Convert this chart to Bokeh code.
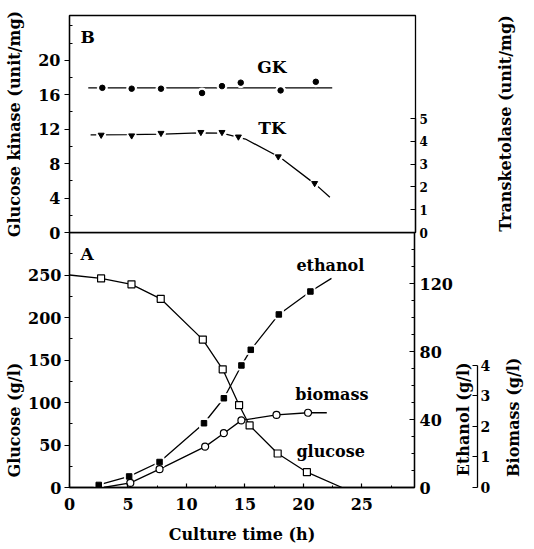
import math
from bokeh.plotting import figure
from bokeh.models import Range1d, LinearAxis, Label, FixedTicker, Title
from bokeh.layouts import column, row
from bokeh.embed import file_html
from bokeh.resources import INLINE

FONT = "DejaVu Serif"

# ---------------- Panel B: enzyme activities ----------------
gk_time = [2.8, 5.3, 7.8, 11.3, 13.0, 14.6, 18.0, 21.0]
gk_activity = [16.8, 16.7, 16.7, 16.2, 17.0, 17.4, 16.5, 17.5]
gk_fit_time = [1.6, 22.4]
gk_fit = [16.8, 16.8]

tk_time = [2.7, 5.3, 7.8, 11.2, 13.0, 14.4, 17.8, 20.9]
tk_activity = [4.28, 4.25, 4.36, 4.40, 4.40, 4.20, 3.33, 2.16]
tk_fit_time = [1.8, 5.0, 8.0, 11.0, 13.0, 15.0, 18.0, 21.0, 22.2]
tk_fit = [4.28, 4.29, 4.32, 4.37, 4.36, 4.10, 3.28, 2.10, 1.55]

gk_ticks = [0, 4, 8, 12, 16, 20]
gk_minor = [2, 6, 10, 14, 18, 22, 24]
tk_ticks = [0, 1, 2, 3, 4, 5]

# ---------------- Panel A: fermentation ----------------
glucose_time = [2.7, 5.3, 7.8, 11.4, 13.1, 14.5, 15.4, 17.8, 20.3]
glucose = [246, 239, 222, 174, 139, 97, 73, 40, 18]
glucose_fit_time = [0.0, 2.7, 5.3, 7.8, 11.4, 13.1, 14.5, 15.4, 17.8, 20.3, 23.3]
glucose_fit = [250, 246, 239, 222, 174, 139, 97, 73, 40, 18, 0]

ethanol_time = [2.5, 5.1, 7.7, 11.5, 13.2, 14.7, 15.5, 17.9, 20.6]
ethanol = [1.5, 6.5, 15.0, 37.8, 52.5, 71.8, 81.0, 101.8, 115.3]
ethanol_fit_time = [2.5, 5.1, 7.7, 11.5, 13.2, 14.7, 15.5, 17.9, 20.6, 22.4]
ethanol_fit = [1.5, 6.5, 15.0, 37.8, 52.5, 71.8, 81.0, 101.8, 115.3, 123.0]

biomass_time = [5.2, 7.7, 11.6, 13.2, 14.7, 17.7, 20.4]
biomass = [0.15, 0.60, 1.34, 1.78, 2.20, 2.38, 2.45]
biomass_fit_time = [2.9, 5.2, 7.7, 11.6, 13.2, 14.7, 17.7, 20.4, 22.0]
biomass_fit = [0.0, 0.15, 0.60, 1.34, 1.78, 2.20, 2.38, 2.45, 2.45]

time_ticks = [0, 5, 10, 15, 20, 25]
time_minor = [2.5, 7.5, 12.5, 17.5, 22.5, 27.5]
glucose_ticks = [0, 50, 100, 150, 200, 250]
glucose_minor = [25, 75, 125, 175, 225, 275]
ethanol_ticks = [0, 40, 80, 120]
ethanol_minor = [10, 20, 30, 50, 60, 70, 90, 100, 110, 130, 140]
biomass_ticks = [0, 1, 2, 3, 4]

TOTAL_W = 530
H_TOP = 242
H_BOT = 315


def style_axis(ax, size="16px"):
    ax.axis_line_color = "black"
    ax.axis_line_width = 1.3
    ax.major_tick_line_color = "black"
    ax.minor_tick_line_color = "black"
    ax.major_tick_line_width = 1.2
    ax.minor_tick_line_width = 1.0
    ax.major_label_text_font = FONT
    ax.major_label_text_font_style = "bold"
    ax.major_label_text_font_size = size
    ax.major_label_text_color = "black"
    ax.axis_label_text_font = FONT
    ax.axis_label_text_font_style = "bold"
    ax.axis_label_text_font_size = "16px"
    ax.axis_label_text_color = "black"


def lbl(p, x, y, text, size="16px", angle=0.0, align="left", baseline="middle"):
    p.add_layout(Label(x=x, y=y, text=text, angle=angle, text_align=align,
                       text_baseline=baseline, text_font=FONT,
                       text_font_style="bold", text_font_size=size,
                       text_color="black"))


def plain(p, transparent=False):
    p.grid.visible = False
    p.outline_line_color = None
    if transparent:
        p.background_fill_alpha = 0.0
        p.border_fill_alpha = 0.0
    else:
        p.background_fill_color = "white"
        p.border_fill_color = "white"


# ======================= top row (B) =======================
p1 = figure(width=435, height=H_TOP, x_range=Range1d(0, 29.5), y_range=Range1d(0, 25.2),
            x_axis_location=None, output_backend="svg", toolbar_location=None,
            min_border_left=69, min_border_right=20, min_border_top=15,
            min_border_bottom=10)
plain(p1)
p1.outline_line_color = "black"
p1.outline_line_width = 1.3

ay = p1.yaxis[0]
ay.ticker = FixedTicker(ticks=gk_ticks, minor_ticks=gk_minor)
style_axis(ay)
ay.major_tick_out = 5
ay.major_tick_in = 0
ay.minor_tick_out = 0
ay.minor_tick_in = 3
ay.major_label_standoff = 4
ay.axis_label = "Glucose kinase (unit/mg)"
ay.axis_label_standoff = 11

p1.extra_y_ranges = {"tk": Range1d(0, 9.52)}
tk_axis = LinearAxis(y_range_name="tk", bounds=(0, 5),
                     ticker=FixedTicker(ticks=tk_ticks, minor_ticks=[]))
style_axis(tk_axis, size="12px")
tk_axis.major_tick_in = 5
tk_axis.major_tick_out = 0
tk_axis.major_label_standoff = 4
p1.add_layout(tk_axis, "right")

p1.line(gk_fit_time, gk_fit, line_color="black", line_width=1.3)
p1.scatter(gk_time, gk_activity, marker="circle", size=10, color="white")
p1.scatter(gk_time, gk_activity, marker="circle", size=5.5, color="black")

p1.line(tk_fit_time, tk_fit, y_range_name="tk", line_color="black", line_width=1.3)
p1.scatter(tk_time, tk_activity, y_range_name="tk", marker="circle", size=9, color="white")
p1.scatter(tk_time, tk_activity, y_range_name="tk", marker="inverted_triangle",
           size=6, color="black")

lbl(p1, 0.94, 22.65, "B", size="17px")
lbl(p1, 16.0, 19.2, "GK", size="17px")
lbl(p1, 16.1, 12.1, "TK", size="17px")

# side strip holding the transketolase title
p1s = figure(width=TOTAL_W - 435, height=H_TOP, x_range=Range1d(0, TOTAL_W - 435),
             y_range=Range1d(0, 217), x_axis_location=None, y_axis_location=None,
             output_backend="svg", toolbar_location=None,
             min_border_left=0, min_border_right=0, min_border_top=15,
             min_border_bottom=10)
plain(p1s)
lbl(p1s, 70, 109, "Transketolase (unit/mg)", angle=math.pi / 2, align="center")

# ======================= bottom row (A) =======================
p2 = figure(width=455, height=H_BOT, x_range=Range1d(0, 29.5), y_range=Range1d(0, 300),
            output_backend="svg", toolbar_location=None,
            min_border_left=69, min_border_right=40, min_border_top=0,
            min_border_bottom=60)
plain(p2, transparent=True)
p2.outline_line_color = "black"
p2.outline_line_width = 1.3
p2.margin = (-10, 0, 0, 0)

ax = p2.xaxis[0]
ax.ticker = FixedTicker(ticks=time_ticks, minor_ticks=time_minor)
style_axis(ax)
ax.major_tick_in = 4
ax.major_tick_out = 0
ax.minor_tick_in = 2
ax.minor_tick_out = 0
ax.major_label_standoff = 10
ax.axis_label = "Culture time (h)"
ax.axis_label_standoff = 12

gy = p2.yaxis[0]
gy.ticker = FixedTicker(ticks=glucose_ticks, minor_ticks=glucose_minor)
style_axis(gy)
gy.major_tick_out = 5
gy.major_tick_in = 0
gy.minor_tick_out = 0
gy.minor_tick_in = 3
gy.major_label_standoff = 3

p2.add_layout(Title(text="Glucose (g/l)", align="left", offset=10, standoff=4,
                    text_font=FONT, text_font_style="bold", text_font_size="16px",
                    text_color="black"), "left")

p2.extra_y_ranges = {"eth": Range1d(0, 150), "bio": Range1d(0, 8.36)}
eth_axis = LinearAxis(y_range_name="eth",
                      ticker=FixedTicker(ticks=ethanol_ticks, minor_ticks=ethanol_minor))
style_axis(eth_axis)
eth_axis.major_tick_in = 5
eth_axis.major_tick_out = 0
eth_axis.minor_tick_in = 3
eth_axis.minor_tick_out = 0
eth_axis.major_label_standoff = 5
p2.add_layout(eth_axis, "right")

p2.line(glucose_fit_time, glucose_fit, line_color="black", line_width=1.3)
p2.line(ethanol_fit_time, ethanol_fit, y_range_name="eth", line_color="black", line_width=1.3)
p2.line(biomass_fit_time, biomass_fit, y_range_name="bio", line_color="black", line_width=1.3)

p2.scatter(ethanol_time, ethanol, y_range_name="eth", marker="square", size=9, color="white")
p2.scatter(ethanol_time, ethanol, y_range_name="eth", marker="square", size=5.5, color="black")
p2.scatter(glucose_time, glucose, marker="square", size=7, fill_color="white",
           line_color="black", line_width=1.2)
p2.scatter(biomass_time, biomass, y_range_name="bio", marker="circle", size=7,
           fill_color="white", line_color="black", line_width=1.2)

lbl(p2, 0.94, 275, "A", size="17px")
lbl(p2, 19.4, 261, "ethanol")
lbl(p2, 19.3, 109, "biomass")
lbl(p2, 19.4, 42, "glucose")

# middle strip: ethanol title + biomass axis
p2m = figure(width=44, height=H_BOT, x_range=Range1d(0, 22), y_range=Range1d(0, 8.36),
             x_axis_location=None, y_axis_location="right",
             output_backend="svg", toolbar_location=None,
             min_border_left=0, min_border_right=22, min_border_top=0,
             min_border_bottom=60)
plain(p2m, transparent=True)
p2m.margin = (-10, 0, 0, 0)
by = p2m.yaxis[0]
by.bounds = (0, 4)
by.ticker = FixedTicker(ticks=biomass_ticks, minor_ticks=[])
style_axis(by, size="14px")
by.major_tick_in = 5
by.major_tick_out = 0
by.major_label_standoff = 3
lbl(p2m, 8, 4.1, "Ethanol (g/l)", angle=math.pi / 2, align="right")

# end strip: biomass title
p2e = figure(width=TOTAL_W - 455 - 44, height=H_BOT, x_range=Range1d(0, TOTAL_W - 499),
             y_range=Range1d(0, 8.36), x_axis_location=None, y_axis_location=None,
             output_backend="svg", toolbar_location=None,
             min_border_left=0, min_border_right=0, min_border_top=0,
             min_border_bottom=60)
plain(p2e, transparent=True)
p2e.margin = (-10, 0, 0, 0)
lbl(p2e, 14, 4.26, "Biomass (g/l)", angle=math.pi / 2, align="right")

layout = column(row(p1, p1s, spacing=0), row(p2, p2m, p2e, spacing=0), spacing=0)
open("out.html", "w").write(file_html(layout, INLINE))
